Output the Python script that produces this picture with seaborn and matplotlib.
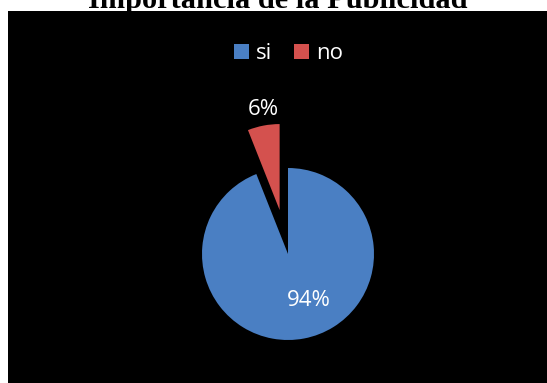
import matplotlib
matplotlib.use("Agg")
import matplotlib.pyplot as plt
import seaborn as sns

sns.set_theme(style="white")
plt.rcParams['font.family'] = ['Open Sans', 'DejaVu Sans']

# Data
categories = ["si", "no"]
values = [94, 6]
colors = ["#4A7FC3", "#D4514E"]
title = "Importancia de la Publicidad"

W, H = 547, 383
fig = plt.figure(figsize=(W / 100, H / 100), dpi=100)
fig.patch.set_facecolor("white")

# Black chart panel
left_px, top_px = 8, 11
ax = fig.add_axes([left_px / W, 0, (W - left_px) / W, (H - top_px) / H])
ax.set_facecolor("black")
for s in ax.spines.values():
    s.set_visible(False)

# Pie centre and radius in panel pixels
cx_px, cy_px, r_px = 288 - left_px, 254 - top_px, 86
pw, ph = W - left_px, H - top_px

wedges, texts, autotexts = ax.pie(
    values, colors=colors, startangle=90, counterclock=False,
    explode=[0, 0.52], radius=1.0, autopct="%1.0f%%",
    pctdistance=0.6, frame=True,
    wedgeprops=dict(linewidth=0),
    textprops=dict(color="white", fontsize=16),
)
autotexts[0].set_position((0.24, -0.535))
autotexts[1].set_position((-0.29, 1.685))
for t in autotexts:
    t.set_ha("center")
    t.set_va("center")

ax.set_aspect("equal", adjustable="box")
ax.set_xlim(-cx_px / r_px, (pw - cx_px) / r_px)
ax.set_ylim(-(ph - cy_px) / r_px, cy_px / r_px)
ax.set_xticks([])
ax.set_yticks([])

leg = ax.legend(wedges, categories, loc="upper center", bbox_to_anchor=(0.52, 0.955),
                ncol=2, frameon=False, fontsize=16, labelcolor="white",
                handlelength=0.68, handleheight=0.68, handletextpad=0.3,
                columnspacing=1.0, borderpad=0.2)

fig.text(0.507, 1 - 7.5 / H, title, ha="center", va="baseline",
         fontsize=21.9, fontweight="bold", family=["Liberation Serif"], color="black")

fig.savefig("out.png", dpi=100, facecolor="white")
